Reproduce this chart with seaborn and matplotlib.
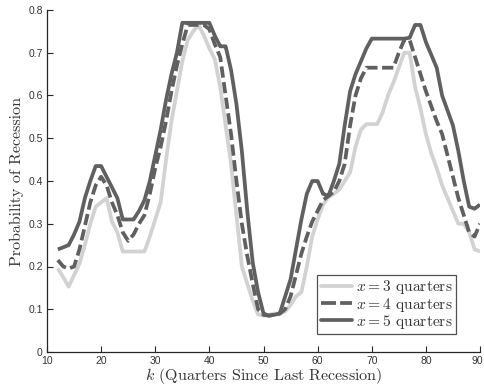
import numpy as np
import pandas as pd
import matplotlib
matplotlib.use("Agg")
import matplotlib.pyplot as plt
import matplotlib.transforms as mtransforms
import seaborn as sns
from matplotlib.lines import Line2D

# Quarters since the last recession
k = list(range(12, 91))

# Probability of recession within x quarters
p_x3 = [0.195, 0.175, 0.153, 0.180, 0.207, 0.250, 0.300, 0.340, 0.350, 0.360,
        0.305, 0.280, 0.235, 0.235, 0.235, 0.235, 0.235, 0.270, 0.310, 0.350,
        0.450, 0.540, 0.610, 0.680, 0.730, 0.750, 0.765, 0.740, 0.710, 0.685,
        0.620, 0.530, 0.440, 0.320, 0.200, 0.160, 0.120, 0.088, 0.085, 0.087,
        0.090, 0.090, 0.095, 0.110, 0.130, 0.140, 0.200, 0.270, 0.310, 0.345,
        0.362, 0.370, 0.380, 0.400, 0.420, 0.480, 0.520, 0.533, 0.533, 0.533,
        0.560, 0.600, 0.630, 0.665, 0.700, 0.700, 0.620, 0.570, 0.510, 0.465,
        0.430, 0.390, 0.360, 0.330, 0.300, 0.300, 0.280, 0.240, 0.235]

p_x4 = [0.215, 0.200, 0.195, 0.200, 0.240, 0.295, 0.350, 0.390, 0.410, 0.390,
        0.350, 0.320, 0.280, 0.260, 0.275, 0.300, 0.320, 0.370, 0.430, 0.480,
        0.540, 0.610, 0.670, 0.720, 0.765, 0.765, 0.765, 0.765, 0.755, 0.720,
        0.690, 0.600, 0.510, 0.400, 0.300, 0.225, 0.160, 0.100, 0.087, 0.085,
        0.087, 0.090, 0.100, 0.130, 0.180, 0.230, 0.270, 0.305, 0.330, 0.355,
        0.365, 0.375, 0.400, 0.440, 0.530, 0.600, 0.640, 0.665, 0.665, 0.665,
        0.665, 0.665, 0.665, 0.700, 0.730, 0.730, 0.690, 0.650, 0.610, 0.575,
        0.540, 0.510, 0.460, 0.410, 0.360, 0.320, 0.280, 0.270, 0.300]

p_x5 = [0.240, 0.245, 0.250, 0.275, 0.305, 0.360, 0.400, 0.435, 0.435, 0.410,
        0.385, 0.360, 0.310, 0.310, 0.310, 0.330, 0.355, 0.400, 0.460, 0.520,
        0.590, 0.650, 0.700, 0.770, 0.770, 0.770, 0.770, 0.770, 0.770, 0.740,
        0.715, 0.715, 0.660, 0.580, 0.470, 0.330, 0.210, 0.140, 0.090, 0.085,
        0.087, 0.090, 0.130, 0.170, 0.240, 0.310, 0.370, 0.400, 0.400, 0.370,
        0.365, 0.400, 0.440, 0.530, 0.610, 0.650, 0.680, 0.710, 0.733, 0.733,
        0.733, 0.733, 0.733, 0.733, 0.733, 0.735, 0.765, 0.765, 0.725, 0.695,
        0.665, 0.600, 0.565, 0.530, 0.470, 0.400, 0.340, 0.335, 0.345]

labels = [r"$x = 3$ quarters", r"$x = 4$ quarters", r"$x = 5$ quarters"]

df = pd.DataFrame({
    "k": k * 3,
    "p": p_x3 + p_x4 + p_x5,
    "series": [labels[0]] * len(k) + [labels[1]] * len(k) + [labels[2]] * len(k),
})

sns.set_theme(style="ticks")
plt.rcParams["mathtext.fontset"] = "cm"
plt.rcParams["axes.unicode_minus"] = False

fig = plt.figure(figsize=(4.84, 3.86), dpi=100)
ax = fig.add_axes([47 / 484, 34 / 386, 433 / 484, 342 / 386])

light = "#d2d2d2"
dark = "#606060"
lw = 2.7
dash = (3.0, 1.2)
sns.lineplot(data=df, x="k", y="p", hue="series", style="series",
             palette=[light, dark, dark],
             dashes=[(1, 0), dash, (1, 0)],
             linewidth=lw, ax=ax, legend=False)

ax.set_xlim(10, 90)
ax.set_ylim(0, 0.8)
ax.set_xticks(range(10, 91, 10))
ax.set_yticks(np.arange(0, 0.81, 0.1))
ax.set_yticklabels(["0", "0.1", "0.2", "0.3", "0.4", "0.5", "0.6", "0.7", "0.8"])

for s in ["top", "right"]:
    ax.spines[s].set_visible(False)
for s in ["left", "bottom"]:
    ax.spines[s].set_color("#262626")
    ax.spines[s].set_linewidth(0.9)

ax.tick_params(direction="in", length=4, width=0.8, color="#262626",
               labelsize=7.5, labelcolor="#333333", pad=3)
for t in ax.get_xticklabels() + ax.get_yticklabels():
    t.set_fontfamily("Liberation Sans")

# keep the last x tick label inside the canvas
last = ax.get_xticklabels()[-1]
last.set_transform(last.get_transform() +
                   mtransforms.ScaledTranslation(-2.5 / 100, 0, fig.dpi_scale_trans))

ax.set_xlabel(r"$k$ (Quarters Since Last Recession)", fontfamily="cmr10",
              fontsize=11.5, color="#333333", labelpad=0)
ax.set_ylabel("Probability of Recession", fontfamily="cmr10",
              fontsize=11.5, color="#333333", labelpad=3)

handles = [Line2D([], [], color=light, lw=lw),
           Line2D([], [], color=dark, lw=lw, dashes=(4.0, 1.1)),
           Line2D([], [], color=dark, lw=lw)]
leg = ax.legend(handles, labels, loc="lower right",
                bbox_to_anchor=(456 / 484 - 47 / 484, 0.0), bbox_transform=ax.transAxes,
                frameon=True, fancybox=False, edgecolor="#262626",
                handlelength=2.0, handletextpad=0.3, borderpad=0.2,
                borderaxespad=0.0, labelspacing=-0.05,
                prop={"family": "cmr10", "size": 11.2})
leg.get_frame().set_linewidth(0.9)
for t in leg.get_texts():
    t.set_color("#333333")

fig.canvas.draw()
# legend box bottom edge at 334 px from the top of the canvas
fig_h = fig.get_size_inches()[1] * fig.dpi
target_bottom = fig_h - 334
ax_bb = ax.get_window_extent()
leg.set_bbox_to_anchor(((456 - 47) / 433, (target_bottom - ax_bb.y0) / ax_bb.height),
                       transform=ax.transAxes)

fig.text(0.42, 1.0 + 5 / 386, "(a)", fontfamily="cmr10", fontsize=14,
         color="#333333", ha="center", va="baseline")

fig.savefig("out.png", dpi=100)
